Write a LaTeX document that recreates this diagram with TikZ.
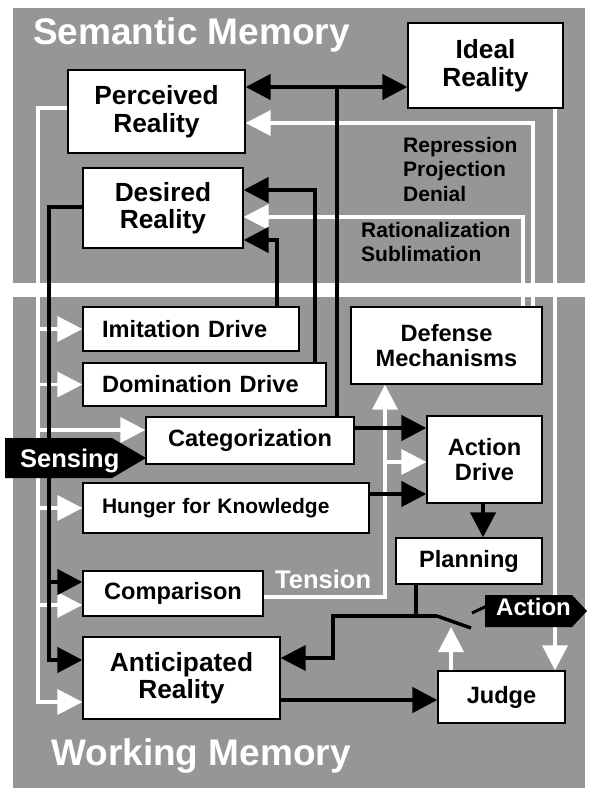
\documentclass[tikz,border=0pt]{standalone}
\usepackage{fontspec}
\setmainfont{Liberation Sans}
\usetikzlibrary{arrows.meta}
\definecolor{bg}{RGB}{150,150,150}
\begin{document}
\begin{tikzpicture}[x=1pt,y=-1pt,
  box/.style={draw=black, line width=1.3pt, fill=white, inner sep=0pt, align=center,
    font=\bfseries\fontsize{26.3}{27.5}\selectfont},
  sbox/.style={box, font=\bfseries\fontsize{23.6}{25.5}\selectfont},
  lbox/.style={sbox, align=left, inner xsep=19pt},
  blk/.style={line width=4.5pt, draw=black},
  wht/.style={line width=3.5pt, draw=white},
  tip/.style={-{Triangle[length=25pt,width=25pt]}},
  dtip/.style={{Triangle[length=25pt,width=25pt]}-{Triangle[length=25pt,width=25pt]}},
  title/.style={text=white, inner sep=0pt, font=\bfseries\fontsize{37}{40}\selectfont},
  lbl/.style={inner sep=0pt, align=left, font=\bfseries\fontsize{21}{24.5}\selectfont},
  tag/.style={text=white, inner sep=0pt, font=\bfseries\fontsize{25.5}{27}\selectfont}
]
\useasboundingbox (0,0) rectangle (589,789);
\fill[bg] (13,8) rectangle (585,283);
\fill[bg] (13,297) rectangle (585,788);

\node[title, anchor=base west] (sem) at (33,45) {Semantic Memory};
\node[title, anchor=base west] (work) at (51,765) {Working Memory};

% boxes
\node[box, minimum width=177pt, minimum height=83pt] (perc) at (156.5,111.5) {Perceived\\Reality};
\node[box, minimum width=160pt, minimum height=80pt] (des) at (163,208) {Desired\\Reality};
\node[box, minimum width=155pt, minimum height=85pt] (ideal) at (485.5,65.5) {Ideal\\Reality};
\node[lbox, text width=178pt, minimum height=44pt] (imit) at (191,329) {Imitation Drive};
\node[lbox, text width=205pt, minimum height=43pt] (dom) at (204.5,384.5) {Domination Drive};
\node[sbox, minimum width=208pt, minimum height=47pt] (cat) at (250,440.5) {Categorization};
\node[lbox, text width=248pt, minimum height=50pt, font=\bfseries\fontsize{21}{23}\selectfont] (hun) at (226,508) {Hunger for Knowledge};
\node[sbox, minimum width=191pt, minimum height=77pt] (def) at (446.5,345.5) {Defense\\Mechanisms};
\node[sbox, minimum width=115pt, minimum height=87pt] (act) at (484.5,459.5) {Action\\Drive};
\node[sbox, minimum width=180pt, minimum height=45pt] (comp) at (173,593.5) {Comparison};
\node[box, minimum width=197pt, minimum height=82pt] (ant) at (181.5,678) {Anticipated\\Reality};
\node[sbox, minimum width=146pt, minimum height=46pt] (plan) at (469,561) {Planning};
\node[sbox, minimum width=127pt, minimum height=52pt] (judge) at (501.5,697) {Judge};

% labels
\node[lbl, anchor=north west] (rpd) at (403,137) {Repression\\Projection\\Denial};
\node[lbl, anchor=north west] (rs) at (361,222) {Rationalization\\Sublimation};
\node[tag, anchor=base west] (tension) at (275,588) {Tension};

% white connectors
\draw[wht, tip] (def.north -| 533,0) |- (perc.east |- 0,123);
\draw[wht, tip] (def.north -| 523,0) |- (des.east |- 0,217);
\draw[wht, tip] (perc.west |- 0,108) -| (38,702) -- (ant.west |- 0,702);
\coordinate (wl) at (38,108);
\draw[wht, tip] (imit.west -| wl) -- (imit.west);
\draw[wht, tip] (dom.west -| wl) -- (dom.west);
\draw[wht, tip] (38,430) -- (cat.west |- 0,430);
\draw[wht, tip] (hun.west -| wl) -- (hun.west);
\draw[wht, tip] (38,605) -- (comp.west |- 0,605);
\draw[wht, tip] (comp.east |- 0,597) -| (def.south -| 385,0);
\draw[wht, tip] (385,462) -- (act.west |- 0,462);
\draw[wht, tip] (ideal.south -| 555,0) -- (judge.north -| 555,0);
\draw[wht, tip] (judge.north -| 451,0) -- (451,627);

% black connectors
\coordinate (j1) at (337,87);
\draw[blk, dtip] (perc.east |- j1) -- (ideal.west |- j1);
\draw[blk] (cat.north -| j1) -- (j1);
\draw[blk, tip] (dom.north -| 315,0) |- (des.east |- 0,190);
\draw[blk, tip] (imit.north -| 277,0) |- (des.east |- 0,240);
\draw[blk, tip] (des.west |- 0,207) -| (49,660) -- (ant.west |- 0,660);
\draw[blk, tip] (49,582) -- (comp.west |- 0,582);
\draw[blk, tip] (cat.east |- 0,428) -- (act.west |- 0,428);
\draw[blk, tip] (hun.east |- 0,494) -- (act.west |- 0,494);
\draw[blk, tip] (act.south -| 483,0) -- (plan.north -| 483,0);
\coordinate (sw) at (437,616);
\draw[line width=3.5pt] (plan.south -| 416,0) -- (416,616);
\draw[line width=3.5pt, -{Triangle[length=25pt,width=25pt]}] (sw) -- (333,616) |- (ant.east |- 0,658);
\draw[line width=3.5pt] (sw) -- (471,628);
\draw[blk, tip] (ant.east |- 0,700) -- (judge.west |- 0,700);

% Sensing and Action tags
\fill[black] (5,438) -- (112,438) -- (146,458) -- (112,478) -- (5,478) -- cycle;
\node[tag, anchor=base west] (sens) at (20,467) {Sensing};
\fill[black] (485,595) -- (572,595) -- (587,611) -- (572,627) -- (485,627) -- cycle;
\node[tag, anchor=base west, font=\bfseries\fontsize{24}{26}\selectfont] (action) at (496,615) {Action};
\draw[line width=3pt] (472,613) -- (action.west -| 486,0);
\end{tikzpicture}
\end{document}
